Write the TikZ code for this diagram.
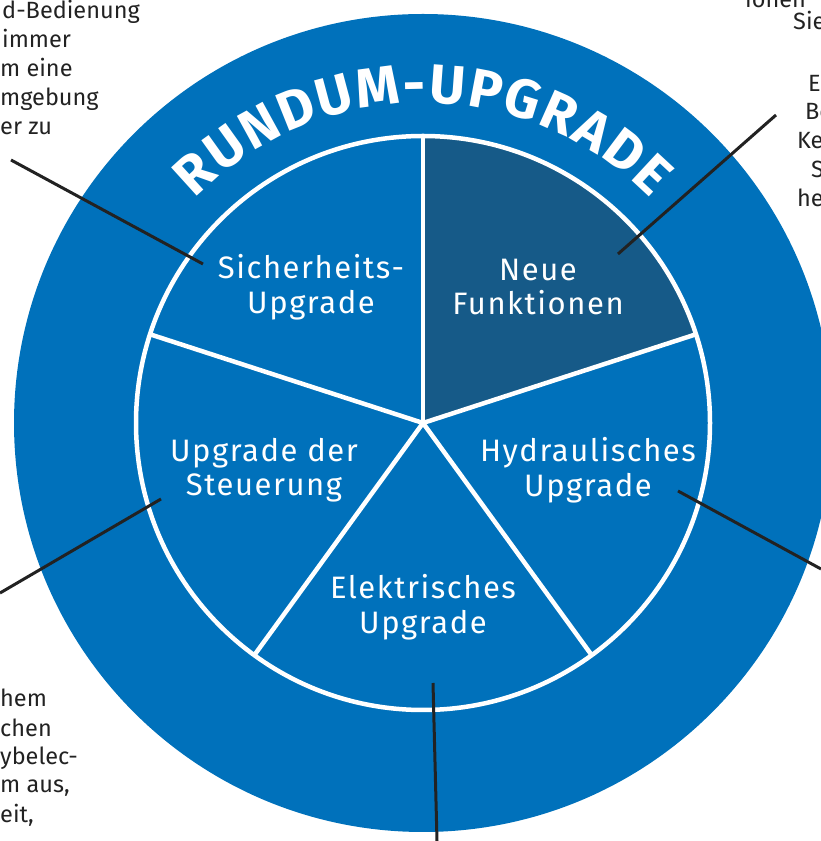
\documentclass[tikz,border=0pt]{standalone}
\usepackage{fontspec}
\setmainfont{Fira Sans}
\usetikzlibrary{decorations.text}
\definecolor{ringblue}{HTML}{0071BB}
\definecolor{sliceblue}{HTML}{165A88}
\definecolor{notegray}{HTML}{222222}
\newcommand\ringtitlefont{\fontsize{55}{55}\selectfont\bfseries\color{white}}
\newcommand\tk[1]{#1\kern2.2pt}

\begin{document}
\begin{tikzpicture}[x=1pt,y=1pt,
    slice label/.style={text=white,align=center,inner sep=0pt,
        font=\fontsize{31}{34.5}\selectfont\addfontfeature{LetterSpace=5}},
    note/.style={anchor=base west,text=notegray,inner sep=0pt,
        font=\fontsize{23.5}{29}\selectfont},
    pin/.style={draw=notegray,line width=3pt}]
    \useasboundingbox (0,0) rectangle (821,841);

    % ring and pie
    \coordinate (center) at (423,418);
    \fill[ringblue] (center) circle[radius=409];
    \fill[sliceblue,shift={(center)}]
        (0,0) -- (18:287) arc[start angle=18,end angle=90,radius=287] -- cycle;
    \foreach \a in {90,18,-54,-126,162}
        \draw[white,line width=4.5pt,shift={(center)}] (0,0) -- (\a:287);
    \draw[white,line width=4.5pt] (center) circle[radius=287];

    \path[shift={(center)},decorate,
        decoration={text along path,text align=center,
            text={|\ringtitlefont|{\tk R}{\tk U}{\tk N}{\tk D}{\tk U}{\tk M}{\tk -}{\tk U}{\tk P}{\tk G}{\tk R}{\tk A}{\tk D}E}}]
        (180:320) arc[start angle=180,end angle=0,radius=320];

    % slice labels
    \node[slice label] (safety) at (311,554) {Sicherheits-\\Upgrade};
    \node[slice label] (features) at (538,554) {Neue\\Funktionen};
    \node[slice label] (control) at (264,371) {Upgrade der\\Steuerung};
    \node[slice label] (hydraulic) at (588,371) {Hydraulisches\\Upgrade};
    \node[slice label] (electric) at (423,234) {Elektrisches\\Upgrade};

    % cut notes
    \node[note] (tl-1) at (2,822) {d-Bedienung};
    \node[note] (tl-2) at (2,793) {immer};
    \node[note] (tl-3) at (0,764) {m eine};
    \node[note] (tl-4) at (0,735) {mgebung};
    \node[note] (tl-5) at (0,706) {er zu};

    \node[note] (tr-1) at (745,833) {ionen};
    \node[note] (tr-2) at (793,811) {Sie};
    \node[note] (tr-3) at (808,749) {E};
    \node[note] (tr-4) at (805,721) {Be};
    \node[note] (tr-5) at (797,692) {Ke};
    \node[note] (tr-6) at (811,663) {S};
    \node[note] (tr-7) at (797,634) {he};

    \node[note] (bl-1) at (0,134) {hem};
    \node[note] (bl-2) at (0,104) {chen};
    \node[note] (bl-3) at (0,76) {ybelec-};
    \node[note] (bl-4) at (0,48) {m aus,};
    \node[note] (bl-5) at (0,19) {eit,};

    % pins
    \coordinate (safety-pin) at (203,577);
    \coordinate (safety-end) at (11,681);
    \coordinate (features-pin) at (618,587);
    \coordinate (features-end) at (776,726);
    \coordinate (control-pin) at (161,342);
    \coordinate (control-end) at (0,248);
    \coordinate (hydraulic-pin) at (678,350);
    \coordinate (hydraulic-end) at (821,272);
    \coordinate (electric-pin) at (433,158);
    \coordinate (electric-end) at (437,0);
    \foreach \p in {safety,features,control,hydraulic,electric}
        \draw[pin] (\p-pin) -- (\p-end);
\end{tikzpicture}
\end{document}
